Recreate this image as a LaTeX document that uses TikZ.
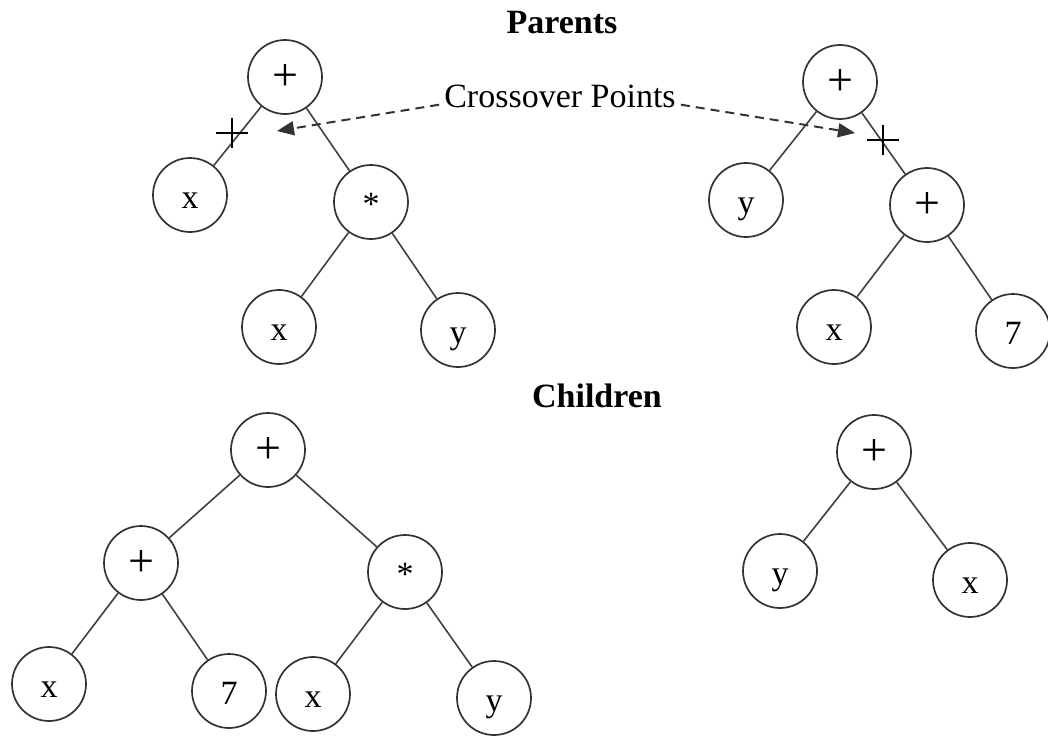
\documentclass[tikz,border=0pt]{standalone}
\usepackage{fontspec}
\setmainfont{Liberation Serif}
\usetikzlibrary{arrows.meta}
\newcommand{\bigplus}{{\fontsize{46}{50}\selectfont +}}

\begin{document}
\begin{tikzpicture}[x=1pt,y=-1pt,
  vert/.style={circle,draw=black!80,line width=1.7pt,minimum size=74pt,inner sep=0pt,
    font=\fontsize{34}{40}\selectfont,text height=27pt,text depth=0pt},
  edge/.style={draw=black!75,line width=1.6pt},
  heading/.style={font=\fontsize{34}{40}\selectfont\bfseries,inner sep=0pt,anchor=base},
  note/.style={font=\fontsize{34}{40}\selectfont,inner sep=5pt,anchor=base},
  xarrow/.style={draw=black!80,line width=2pt,dash pattern=on 9pt off 6pt,
    -{Triangle[length=17pt,width=14pt]}},
  cut/.style={draw=black,line width=1.5pt}]
\useasboundingbox (0,0) rectangle (1048,736);
% parents
\node[heading] (par) at (562,33) {Parents};
\node[vert] (pa) at (285,77) {\bigplus};
\node[vert] (pax) at (190,195) {x};
\node[vert] (pam) at (371,202) {*};
\node[vert] (pamx) at (279,327) {x};
\node[vert] (pamy) at (458,330) {y};
\node[vert] (pb) at (840,82) {\bigplus};
\node[vert] (pby) at (746,200) {y};
\node[vert] (pbp) at (927,205) {\bigplus};
\node[vert] (pbpx) at (834,327) {x};
\node[vert] (pbp7) at (1013,331) {7};
% children
\node[heading] (chl) at (597,407) {Children};
\node[vert] (ca) at (268,450) {\bigplus};
\node[vert] (cap) at (141,563) {\bigplus};
\node[vert] (cam) at (405,572) {*};
\node[vert] (capx) at (49,684) {x};
\node[vert] (cap7) at (229,691) {7};
\node[vert] (camx) at (313,694) {x};
\node[vert] (camy) at (494,698) {y};
\node[vert] (cb) at (874,452) {\bigplus};
\node[vert] (cby) at (780,571) {y};
\node[vert] (cbx) at (970,580) {x};
\foreach \a/\b in {pa/pax,pa/pam,pam/pamx,pam/pamy,pb/pby,pb/pbp,pbp/pbpx,pbp/pbp7,
  ca/cap,ca/cam,cap/capx,cap/cap7,cam/camx,cam/camy,cb/cby,cb/cbx}{
  \draw[edge] (\a)--(\b);}
% crossover points
\coordinate (cutA) at (232,133);
\coordinate (cutB) at (883,140);
\foreach \c in {cutA,cutB}{
  \draw[cut] ([xshift=-16pt]\c)--([xshift=16pt]\c);
  \draw[cut] ([yshift=15pt]\c)--([yshift=-15pt]\c);}
\node[note] (cp) at (560,107) {Crossover Points};
\coordinate (tipA) at (277,131);
\coordinate (tipB) at (855,133);
\draw[xarrow] (cp.mid west)--(tipA);
\draw[xarrow] (cp.mid east)--(tipB);
\end{tikzpicture}
\end{document}
